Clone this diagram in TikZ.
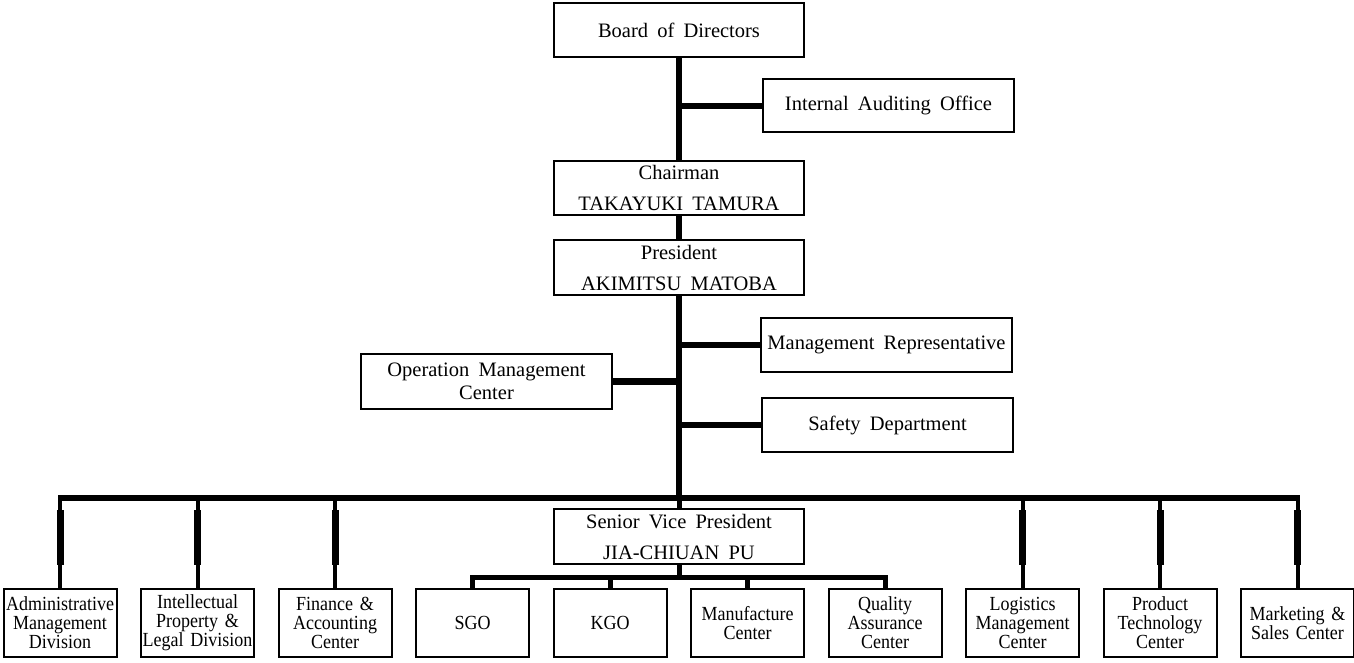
\documentclass[tikz,border=0pt]{standalone}
\usepackage{fontspec}
\setmainfont[WordSpace=1.8]{Liberation Serif}
\newfontfamily\leaffont[FakeStretch=0.9,WordSpace=1.5]{Liberation Serif}
\begin{document}
\begin{tikzpicture}[x=1pt,y=-1pt,
  box/.style={draw, line width=2pt, inner sep=0pt, align=center, font=\fontsize{20.5}{31}\selectfont},
  topbox/.style={box, minimum width=250pt, minimum height=54pt},
  omcbox/.style={box, minimum width=251pt, minimum height=55pt, font=\fontsize{20.5}{23}\selectfont},
  leafbox/.style={box, minimum width=113pt, minimum height=68pt, text width=113pt, font=\leaffont\fontsize{20}{19}\selectfont},
  trunk/.style={line width=6.5pt},
  twig/.style={line width=4pt},
  twigthick/.style={line width=7pt},
  svpline/.style={line width=5pt}]
\useasboundingbox (0,0) rectangle (1354,663);

% top chain
\node[topbox] (board) at (679,30) {Board of Directors};
\node[topbox, minimum width=251pt, minimum height=53pt] (iao) at (888.5,105.5) {Internal Auditing Office};
\node[topbox] (chair) at (679,188) {Chairman\\TAKAYUKI TAMURA};
\node[topbox, minimum height=55pt] (pres) at (679,267.5) {President\\AKIMITSU MATOBA};
\node[topbox, minimum width=251pt] (mr) at (886.5,345) {Management Representative};
\node[topbox, minimum width=251pt] (safety) at (887.5,425) {Safety Department};
\node[omcbox] (omc) at (486.5,381.5) {Operation Management\\Center};
\node[topbox, minimum height=55pt] (svp) at (679,536.5) {Senior Vice President\\JIA-CHIUAN PU};

% leaves
\node[leafbox] (l1)  at (60,623)     {Administrative\\Management\\Division};
\node[leafbox] (l2)  at (197.5,623)  {Intellectual\\Property \&\\Legal Division};
\node[leafbox] (l3)  at (335,623)    {Finance \&\\Accounting\\Center};
\node[leafbox] (l4)  at (472.5,623)  {SGO};
\node[leafbox] (l5)  at (610,623)    {KGO};
\node[leafbox] (l6)  at (747.5,623)  {Manufacture\\Center};
\node[leafbox] (l7)  at (885,623)    {Quality\\Assurance\\Center};
\node[leafbox] (l8)  at (1022.5,623) {Logistics\\Management\\Center};
\node[leafbox] (l9)  at (1160,623)   {Product\\Technology\\Center};
\node[leafbox] (l10) at (1297.5,623) {Marketing \&\\Sales Center};

\coordinate (bus) at (0,498);
\coordinate (segtop) at (0,510);
\coordinate (segbot) at (0,565);
\coordinate (sbus) at (0,577);
\coordinate (iaoj) at (0,106);

% trunk
\draw[trunk] (board.south) -- (chair.north);
\draw[trunk] (chair.south) -- (pres.north);
\draw[trunk] (pres.south) -- (pres.south |- bus);

% side branches
\draw[trunk] (board.south |- iaoj) -- (iao.west |- iaoj);
\draw[trunk] (board.south |- mr.west) -- (mr.west);
\draw[trunk] (board.south |- safety.west) -- (safety.west);
\draw[trunk] (omc.east) -- (omc.east -| board.south);

% main bus
\draw[trunk] ([xshift=-2pt]l1.north |- bus) -- ([xshift=2pt]l10.north |- bus);
\foreach \n in {l1,l2,l3,l8,l9,l10}{
  \draw[twig] (\n.north |- bus) -- (\n.north);
  \draw[twigthick] (\n.north |- segtop) -- (\n.north |- segbot);
}

% senior vice president group
\draw[svpline] (svp.north |- bus) -- (svp.north);
\draw[svpline] (svp.south) -- (svp.south |- sbus);
\draw[svpline] ([xshift=-2.5pt]l4.north |- sbus) -- ([xshift=2.5pt]l7.north |- sbus);
\foreach \n in {l4,l5,l6,l7}{
  \draw[svpline] (\n.north |- sbus) -- (\n.north);
}
\end{tikzpicture}
\end{document}
